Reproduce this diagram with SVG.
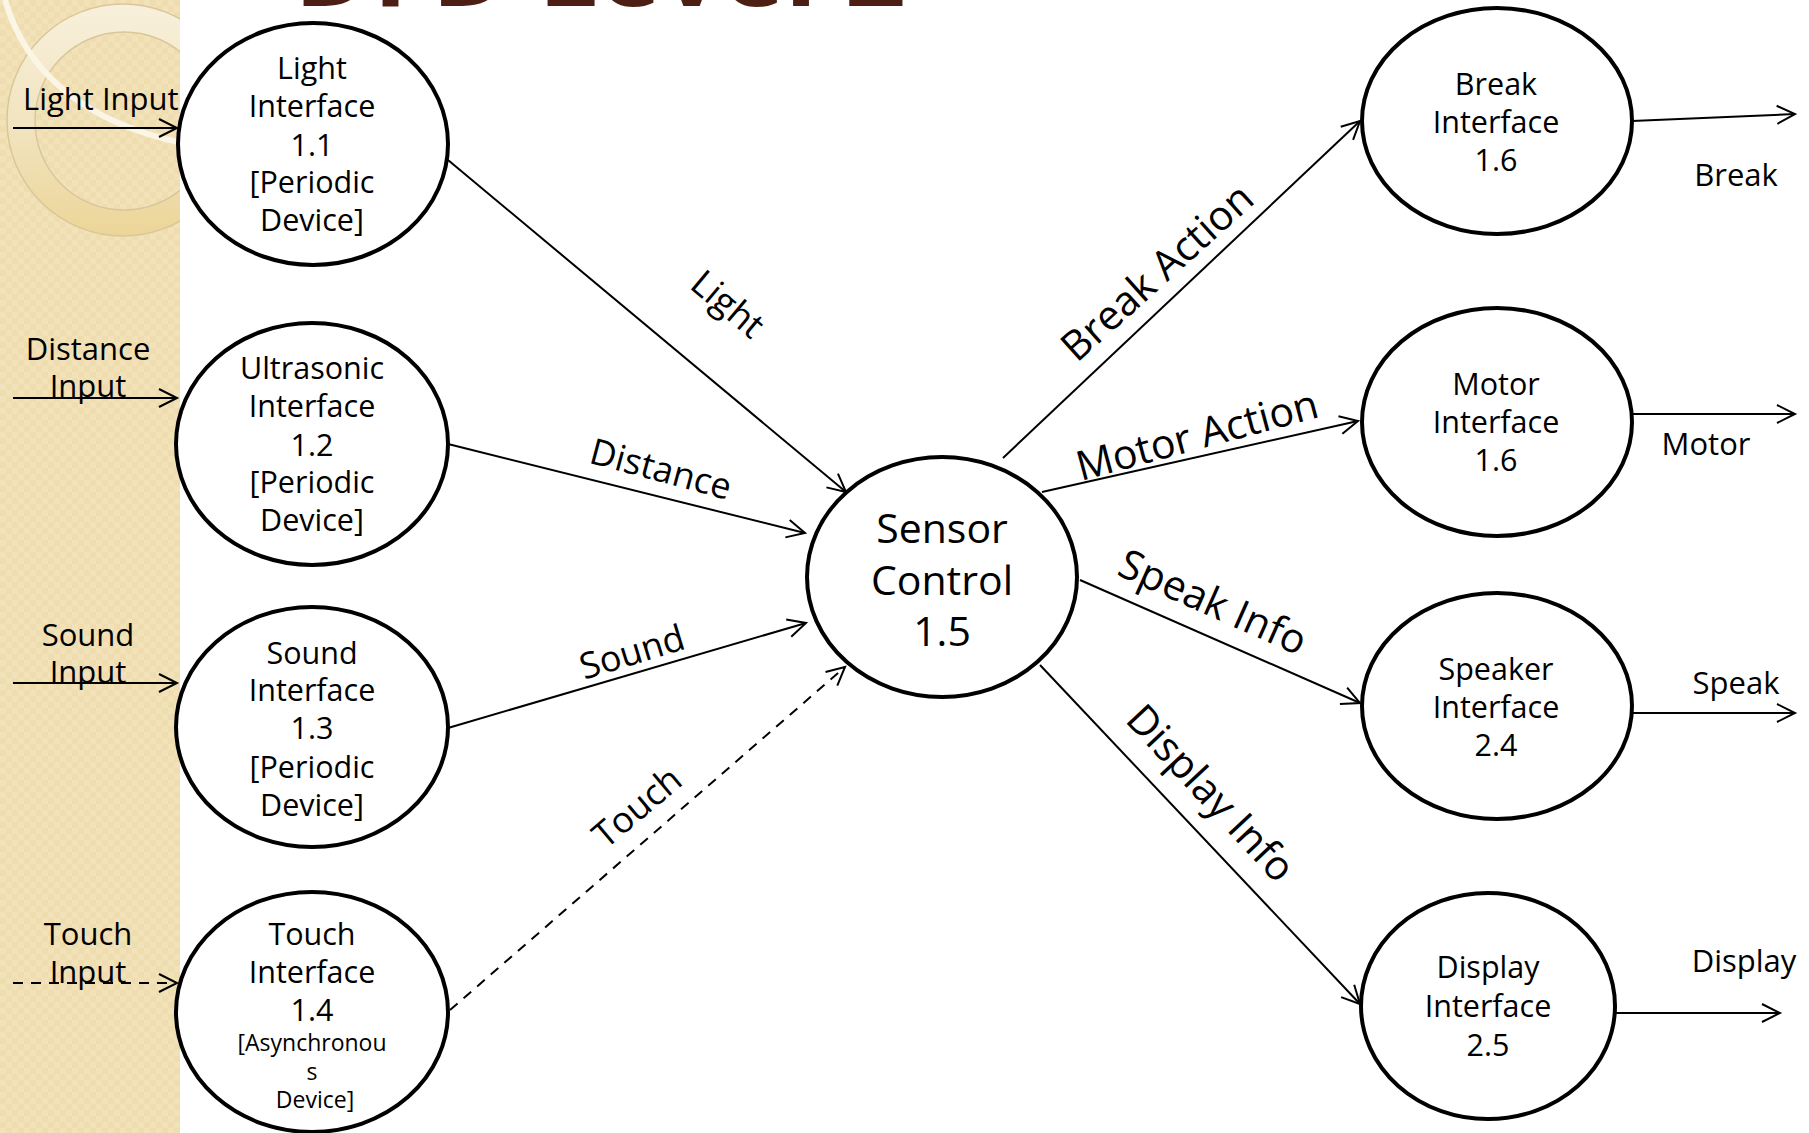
<svg xmlns="http://www.w3.org/2000/svg" width="1809" height="1133" viewBox="0 0 1809 1133">
  <defs>
    <style>
      .node ellipse { fill: #ffffff; stroke: #000000; stroke-width: 4; }
      .txt { font-family: "Open Sans", "Noto Sans", sans-serif; fill: #000000; }
      .nt { font-size: 30.5px; text-anchor: middle; }
      .small { font-size: 23px; }
      .big { font-size: 41px; text-anchor: middle; }
      .el { font-size: 36px; text-anchor: middle; }
      .el2 { font-size: 41px; text-anchor: middle; }
      .io { font-size: 31px; }
      .flow { fill: none; stroke: #000000; stroke-width: 2; marker-end: url(#arrow); }
      .dashed { stroke-dasharray: 10 8; }
    </style>
    <marker id="arrow" viewBox="-22 -12 26 24" markerWidth="26" markerHeight="24" refX="0" refY="0" orient="auto" markerUnits="userSpaceOnUse">
      <path d="M-18,-9 L0,0 L-18,9" fill="none" stroke="#000000" stroke-width="2"/>
    </marker>
    <pattern id="checks" width="12" height="12" patternUnits="userSpaceOnUse">
      <rect width="12" height="12" fill="#efddb0"/>
      <rect width="6" height="6" fill="#f2e2b9"/>
      <rect x="6" y="6" width="6" height="6" fill="#f2e2b9"/>
    </pattern>
    <linearGradient id="ringFill" x1="0" y1="0" x2="0" y2="1">
      <stop offset="0" stop-color="#f8f0dc"/>
      <stop offset="0.55" stop-color="#f1e3bd"/>
      <stop offset="1" stop-color="#ecd598"/>
    </linearGradient>
    <clipPath id="stripClip">
      <rect x="0" y="0" width="180" height="1133"/>
    </clipPath>
  </defs>

  <rect x="0" y="0" width="1809" height="1133" fill="#ffffff"/>

  <!-- textured side band with ornament rings -->
  <g id="sideband">
    <rect x="0" y="0" width="180" height="1133" fill="url(#checks)"/>
    <g clip-path="url(#stripClip)">
      <circle cx="123" cy="120" r="116" fill="url(#ringFill)" stroke="#d9c79a" stroke-width="1.5"/>
      <circle cx="124" cy="121" r="89" fill="url(#checks)" stroke="#d9c79a" stroke-width="1.5"/>
      <path d="M5,0 Q38,112 182,143" fill="none" stroke="#fbf5e6" stroke-width="6"/>
    </g>
  </g>

  <!-- heading, mostly above the top edge -->
  <text x="294" y="6" class="txt" font-size="107" font-weight="bold" style="fill:#4d1e13" textLength="612" lengthAdjust="spacingAndGlyphs">DFD Level 2</text>

  <!-- external inputs -->
  <g id="inputs">
    <text x="23" y="110" class="txt io">Light Input</text>
    <text x="88" y="360" class="txt io" text-anchor="middle">Distance</text>
    <text x="88" y="397" class="txt io" text-anchor="middle">Input</text>
    <text x="88" y="646" class="txt io" text-anchor="middle">Sound</text>
    <text x="88" y="683" class="txt io" text-anchor="middle">Input</text>
    <text x="88" y="945" class="txt io" text-anchor="middle">Touch</text>
    <text x="88" y="983" class="txt io" text-anchor="middle">Input</text>
  </g>

  <!-- data flows -->
  <g id="connectors">
    <line class="flow" x1="13" y1="128" x2="177" y2="128"/>
    <line class="flow" x1="13" y1="398" x2="177" y2="398"/>
    <line class="flow" x1="13" y1="683" x2="177" y2="683"/>
    <line class="flow dashed" x1="13" y1="983" x2="177" y2="983"/>

    <line class="flow" x1="448" y1="160" x2="846" y2="492"/>
    <line class="flow" x1="448" y1="444" x2="805" y2="533"/>
    <line class="flow" x1="448" y1="728" x2="806" y2="623"/>
    <line class="flow dashed" x1="450" y1="1010" x2="845" y2="667"/>

    <line class="flow" x1="1003" y1="458" x2="1360" y2="121"/>
    <line class="flow" x1="1042" y1="492" x2="1358" y2="421"/>
    <line class="flow" x1="1080" y1="580" x2="1360" y2="703"/>
    <line class="flow" x1="1040" y1="665" x2="1360" y2="1004"/>

    <line class="flow" x1="1632" y1="121" x2="1795" y2="114"/>
    <line class="flow" x1="1632" y1="414" x2="1795" y2="414"/>
    <line class="flow" x1="1632" y1="713" x2="1795" y2="713"/>
    <line class="flow" x1="1615" y1="1013" x2="1780" y2="1013"/>

    <text class="txt el" dy="0.35em" transform="translate(728,304) rotate(40)">Light</text>
    <text class="txt el" dy="0.35em" transform="translate(661,469) rotate(15)">Distance</text>
    <text class="txt el" dy="0.35em" transform="translate(632,652) rotate(-17)">Sound</text>
    <text class="txt el" dy="0.35em" transform="translate(637,807) rotate(-40)">Touch</text>
    <text class="txt el2" dy="0.35em" transform="translate(1157,272) rotate(-42)">Break Action</text>
    <text class="txt el2" dy="0.35em" transform="translate(1197,435) rotate(-15)">Motor Action</text>
    <text class="txt el2" dy="0.35em" transform="translate(1213,602) rotate(24)">Speak Info</text>
    <text class="txt el2" dy="0.35em" transform="translate(1211,793) rotate(47)">Display Info</text>

    <text x="1736" y="186" class="txt io" text-anchor="middle">Break</text>
    <text x="1706" y="455" class="txt io" text-anchor="middle">Motor</text>
    <text x="1736" y="694" class="txt io" text-anchor="middle">Speak</text>
    <text x="1744" y="972" class="txt io" text-anchor="middle">Display</text>
  </g>

  <!-- processes -->
  <g id="light-interface" class="node">
    <ellipse cx="313" cy="144" rx="135" ry="121"/>
    <text class="txt nt" x="312" y="79">Light</text>
    <text class="txt nt" x="312" y="117">Interface</text>
    <text class="txt nt" x="312" y="156">1.1</text>
    <text class="txt nt" x="312" y="193">[Periodic</text>
    <text class="txt nt" x="312" y="231">Device]</text>
  </g>

  <g id="ultrasonic-interface" class="node">
    <ellipse cx="312" cy="444" rx="136" ry="121"/>
    <text class="txt nt" x="312" y="379">Ultrasonic</text>
    <text class="txt nt" x="312" y="417">Interface</text>
    <text class="txt nt" x="312" y="456">1.2</text>
    <text class="txt nt" x="312" y="493">[Periodic</text>
    <text class="txt nt" x="312" y="531">Device]</text>
  </g>

  <g id="sound-interface" class="node">
    <ellipse cx="312" cy="727" rx="136" ry="120"/>
    <text class="txt nt" x="312" y="664">Sound</text>
    <text class="txt nt" x="312" y="701">Interface</text>
    <text class="txt nt" x="312" y="739">1.3</text>
    <text class="txt nt" x="312" y="778">[Periodic</text>
    <text class="txt nt" x="312" y="816">Device]</text>
  </g>

  <g id="touch-interface" class="node">
    <ellipse cx="312" cy="1012" rx="136" ry="120"/>
    <text class="txt nt" x="312" y="945">Touch</text>
    <text class="txt nt" x="312" y="983">Interface</text>
    <text class="txt nt" x="312" y="1021">1.4</text>
    <text class="txt nt small" x="312" y="1051">[Asynchronou</text>
    <text class="txt nt small" x="312" y="1080">s</text>
    <text class="txt nt small" x="315" y="1108">Device]</text>
  </g>

  <g id="sensor-control" class="node">
    <ellipse cx="942" cy="577" rx="135" ry="120"/>
    <text class="txt big" x="942" y="543">Sensor</text>
    <text class="txt big" x="942" y="595">Control</text>
    <text class="txt big" x="942" y="646">1.5</text>
  </g>

  <g id="break-interface" class="node">
    <ellipse cx="1497" cy="121" rx="135" ry="113"/>
    <text class="txt nt" x="1496" y="95">Break</text>
    <text class="txt nt" x="1496" y="133">Interface</text>
    <text class="txt nt" x="1496" y="171">1.6</text>
  </g>

  <g id="motor-interface" class="node">
    <ellipse cx="1497" cy="422" rx="135" ry="114"/>
    <text class="txt nt" x="1496" y="395">Motor</text>
    <text class="txt nt" x="1496" y="433">Interface</text>
    <text class="txt nt" x="1496" y="471">1.6</text>
  </g>

  <g id="speaker-interface" class="node">
    <ellipse cx="1497" cy="706" rx="135" ry="113"/>
    <text class="txt nt" x="1496" y="680">Speaker</text>
    <text class="txt nt" x="1496" y="718">Interface</text>
    <text class="txt nt" x="1496" y="756">2.4</text>
  </g>

  <g id="display-interface" class="node">
    <ellipse cx="1488" cy="1006" rx="127" ry="113"/>
    <text class="txt nt" x="1488" y="978">Display</text>
    <text class="txt nt" x="1488" y="1017">Interface</text>
    <text class="txt nt" x="1488" y="1056">2.5</text>
  </g>
</svg>
